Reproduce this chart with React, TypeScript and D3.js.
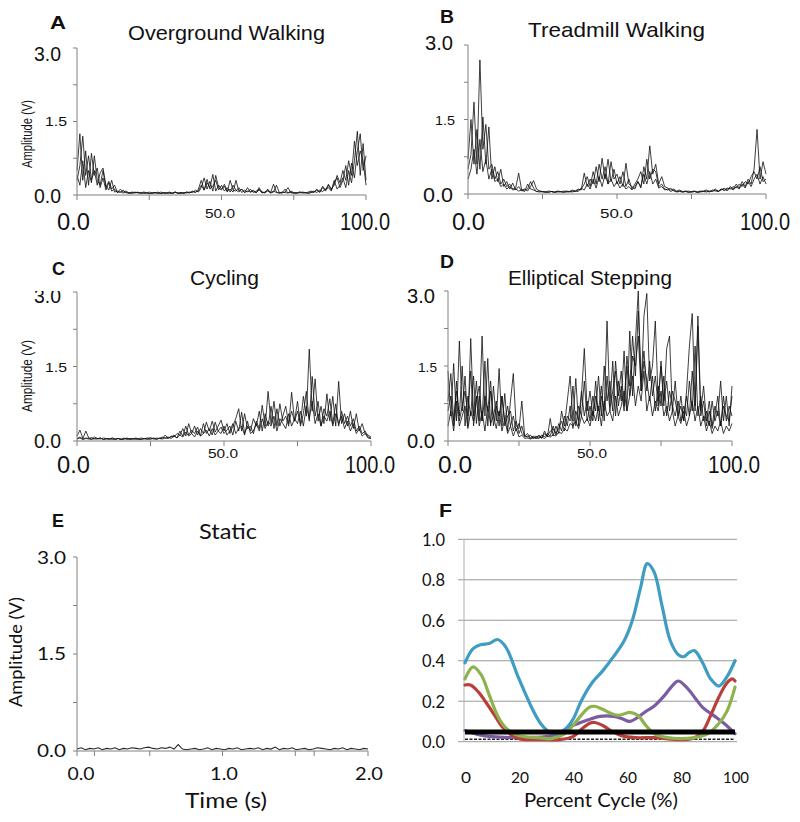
import React from "react";
import * as d3 from "d3";

// ---------------- DATA ----------------
const emgXTicks = [0, 25, 50, 75, 100];
const emgYTicks = [0, 0.75, 1.5, 2.25, 3];
const staticXTicks = [0, 0.12, 0.5, 1, 1.5, 1.63, 2];
const staticYTicks = [0, 0.75, 1.5, 2.25, 3];
const cycleXTicks = [0, 20, 40, 60, 80, 100];
const cycleYTicks = [0, 0.2, 0.4, 0.6, 0.8, 1.0];

// A: Overground Walking (V), samples across 0-100 % cycle
const overground1 = [
  0.5, 1.25, 0.3, 0.9, 0.2, 0.85, 0.4, 0.55, 0.15, 0.35, 0.1,
  0.25, 0.08, 0.12, 0.05, 0.07, 0.04, 0.06, 0.03, 0.05, 0.04,
  0.06, 0.03, 0.05, 0.04, 0.03, 0.05, 0.04, 0.06, 0.03, 0.04,
  0.05, 0.03, 0.04, 0.06, 0.04, 0.05, 0.03, 0.06, 0.04, 0.08,
  0.05, 0.12, 0.3, 0.1, 0.25, 0.15, 0.42, 0.08, 0.2, 0.12,
  0.18, 0.06, 0.3, 0.1, 0.08, 0.15, 0.05, 0.1, 0.06, 0.12,
  0.05, 0.08, 0.12, 0.04, 0.06, 0.1, 0.05, 0.22, 0.06, 0.04,
  0.05, 0.12, 0.04, 0.06, 0.03, 0.05, 0.04, 0.06, 0.05, 0.04,
  0.06, 0.08, 0.05, 0.1, 0.07, 0.12, 0.15, 0.08, 0.3, 0.12,
  0.2, 0.35, 0.15, 0.5, 0.25, 0.7, 1.3, 0.4, 1.05, 0.3,
];
const overground2 = [
  0.3, 0.6, 1.2, 0.4, 0.8, 0.3, 0.5, 0.2, 0.45, 0.55, 0.2,
  0.1, 0.3, 0.06, 0.08, 0.05, 0.1, 0.04, 0.05, 0.03, 0.06,
  0.04, 0.05, 0.03, 0.04, 0.06, 0.03, 0.05, 0.04, 0.03, 0.05,
  0.04, 0.06, 0.03, 0.05, 0.04, 0.03, 0.05, 0.04, 0.06, 0.05,
  0.1, 0.06, 0.15, 0.35, 0.12, 0.28, 0.08, 0.4, 0.15, 0.1,
  0.22, 0.08, 0.12, 0.06, 0.3, 0.08, 0.12, 0.05, 0.08, 0.06,
  0.1, 0.04, 0.15, 0.06, 0.05, 0.08, 0.04, 0.06, 0.2, 0.05,
  0.04, 0.06, 0.15, 0.04, 0.05, 0.03, 0.06, 0.04, 0.05, 0.03,
  0.05, 0.06, 0.1, 0.05, 0.15, 0.08, 0.2, 0.1, 0.25, 0.35,
  0.15, 0.3, 0.6, 0.2, 0.65, 0.35, 0.9, 1.25, 0.5, 0.8,
];
const overground3 = [
  0.4, 0.2, 0.7, 0.15, 0.5, 0.25, 0.8, 0.3, 0.2, 0.5, 0.15,
  0.28, 0.12, 0.2, 0.05, 0.12, 0.06, 0.08, 0.04, 0.06, 0.05,
  0.05, 0.04, 0.06, 0.05, 0.03, 0.04, 0.05, 0.03, 0.06, 0.04,
  0.03, 0.05, 0.04, 0.06, 0.03, 0.05, 0.04, 0.06, 0.05, 0.07,
  0.06, 0.08, 0.2, 0.1, 0.32, 0.12, 0.18, 0.3, 0.1, 0.2,
  0.08, 0.15, 0.06, 0.2, 0.1, 0.06, 0.12, 0.05, 0.15, 0.06,
  0.08, 0.05, 0.1, 0.06, 0.04, 0.12, 0.05, 0.08, 0.05, 0.04,
  0.06, 0.05, 0.04, 0.08, 0.05, 0.04, 0.06, 0.05, 0.04, 0.06,
  0.08, 0.05, 0.12, 0.06, 0.18, 0.1, 0.22, 0.12, 0.2, 0.4,
  0.25, 0.5, 0.3, 0.7, 0.4, 1.1, 0.6, 0.9, 0.7, 0.2,
];

// B: Treadmill Walking
const treadmill1 = [
  0.5, 0.8, 1.85, 0.6, 2.7, 0.9, 1.4, 0.5, 0.6, 0.3, 0.45,
  0.2, 0.3, 0.15, 0.2, 0.1, 0.12, 0.42, 0.08, 0.1, 0.06,
  0.15, 0.27, 0.1, 0.06, 0.05, 0.04, 0.06, 0.05, 0.04, 0.06,
  0.05, 0.04, 0.06, 0.05, 0.08, 0.06, 0.1, 0.08, 0.42, 0.15,
  0.3, 0.2, 0.55, 0.25, 0.72, 0.3, 0.7, 0.25, 0.5, 0.2,
  0.35, 0.15, 0.62, 0.2, 0.15, 0.1, 0.25, 0.12, 0.55, 0.3,
  0.97, 0.4, 0.6, 0.2, 0.35, 0.15, 0.12, 0.08, 0.1, 0.06,
  0.08, 0.05, 0.06, 0.04, 0.05, 0.06, 0.04, 0.05, 0.06, 0.08,
  0.05, 0.06, 0.1, 0.05, 0.08, 0.12, 0.06, 0.15, 0.1, 0.2,
  0.12, 0.25, 0.15, 0.3, 0.2, 0.5, 1.3, 0.3, 0.65, 0.4,
];
const treadmill2 = [
  0.7, 1.5, 0.6, 1.3, 0.5, 1.55, 0.6, 1.35, 0.3, 0.55, 0.25,
  0.5, 0.15, 0.25, 0.1, 0.22, 0.08, 0.15, 0.06, 0.08, 0.1,
  0.25, 0.12, 0.05, 0.06, 0.04, 0.05, 0.03, 0.05, 0.04, 0.05,
  0.04, 0.06, 0.05, 0.04, 0.06, 0.05, 0.08, 0.1, 0.2, 0.35,
  0.15, 0.45, 0.2, 0.6, 0.3, 0.55, 0.2, 0.65, 0.3, 0.4,
  0.2, 0.45, 0.15, 0.3, 0.1, 0.2, 0.3, 0.45, 0.2, 0.7,
  0.3, 0.5, 0.45, 0.15, 0.2, 0.1, 0.08, 0.12, 0.06, 0.05,
  0.06, 0.04, 0.05, 0.06, 0.04, 0.05, 0.04, 0.06, 0.05, 0.06,
  0.04, 0.08, 0.06, 0.05, 0.1, 0.08, 0.12, 0.1, 0.15, 0.12,
  0.2, 0.15, 0.25, 0.2, 0.35, 0.45, 0.3, 0.55, 0.25, 0.3,
];
const treadmill3 = [
  0.3, 0.5, 0.9, 0.4, 1.1, 0.45, 0.7, 0.3, 0.5, 0.25, 0.3,
  0.15, 0.2, 0.1, 0.15, 0.08, 0.1, 0.06, 0.08, 0.05, 0.2,
  0.1, 0.08, 0.05, 0.04, 0.05, 0.03, 0.04, 0.05, 0.03, 0.04,
  0.05, 0.03, 0.04, 0.05, 0.04, 0.06, 0.05, 0.12, 0.08, 0.2,
  0.1, 0.3, 0.12, 0.35, 0.15, 0.4, 0.2, 0.3, 0.15, 0.25,
  0.12, 0.2, 0.1, 0.15, 0.08, 0.15, 0.25, 0.15, 0.4, 0.2,
  0.45, 0.2, 0.3, 0.12, 0.15, 0.08, 0.1, 0.05, 0.08, 0.04,
  0.05, 0.04, 0.05, 0.03, 0.04, 0.05, 0.03, 0.04, 0.05, 0.04,
  0.06, 0.05, 0.08, 0.06, 0.1, 0.07, 0.1, 0.12, 0.08, 0.15,
  0.1, 0.2, 0.12, 0.25, 0.15, 0.3, 0.4, 0.2, 0.35, 0.2,
];

// C: Cycling
const cycling1 = [
  0.1, 0.22, 0.05, 0.2, 0.06, 0.04, 0.08, 0.05, 0.04, 0.06, 0.05,
  0.03, 0.06, 0.04, 0.05, 0.03, 0.04, 0.06, 0.04, 0.05, 0.03,
  0.05, 0.06, 0.04, 0.05, 0.07, 0.04, 0.06, 0.05, 0.08, 0.06,
  0.05, 0.1, 0.08, 0.15, 0.12, 0.25, 0.1, 0.35, 0.15, 0.3,
  0.12, 0.25, 0.15, 0.38, 0.2, 0.4, 0.18, 0.3, 0.42, 0.2,
  0.35, 0.15, 0.3, 0.45, 0.65, 0.2, 0.55, 0.25, 0.3, 0.15,
  0.4, 0.25, 0.72, 0.3, 1.0, 0.35, 0.8, 0.3, 0.75, 0.4,
  0.5, 0.3, 0.98, 0.4, 0.6, 0.35, 0.9, 0.5, 1.85, 0.6,
  1.25, 0.4, 0.7, 0.35, 0.95, 0.4, 0.9, 0.3, 1.2, 0.35,
  0.55, 0.3, 0.6, 0.25, 0.55, 0.2, 0.35, 0.15, 0.12, 0.08,
];
const cycling2 = [
  0.05, 0.08, 0.04, 0.06, 0.05, 0.07, 0.04, 0.05, 0.06, 0.03, 0.05,
  0.04, 0.06, 0.03, 0.05, 0.04, 0.06, 0.03, 0.05, 0.04, 0.06,
  0.04, 0.03, 0.05, 0.06, 0.04, 0.05, 0.03, 0.06, 0.05, 0.12,
  0.06, 0.08, 0.12, 0.06, 0.2, 0.1, 0.3, 0.12, 0.22, 0.15,
  0.28, 0.1, 0.35, 0.15, 0.25, 0.12, 0.38, 0.2, 0.28, 0.15,
  0.22, 0.3, 0.12, 0.4, 0.2, 0.58, 0.15, 0.3, 0.2, 0.45,
  0.3, 0.6, 0.2, 0.55, 0.3, 0.7, 0.25, 0.65, 0.3, 0.5,
  0.7, 0.35, 0.6, 0.4, 0.8, 0.3, 0.55, 1.0, 0.4, 1.3,
  0.5, 0.8, 0.3, 0.65, 0.5, 0.85, 0.35, 0.75, 0.3, 0.6,
  0.35, 0.5, 0.3, 0.45, 0.2, 0.3, 0.15, 0.2, 0.08, 0.06,
];
const cycling3 = [
  0.04, 0.06, 0.03, 0.05, 0.04, 0.03, 0.05, 0.04, 0.06, 0.03, 0.04,
  0.05, 0.03, 0.04, 0.05, 0.03, 0.04, 0.05, 0.03, 0.04, 0.05,
  0.03, 0.04, 0.05, 0.03, 0.04, 0.06, 0.04, 0.05, 0.04, 0.06,
  0.08, 0.05, 0.1, 0.06, 0.12, 0.08, 0.18, 0.1, 0.15, 0.08,
  0.2, 0.1, 0.15, 0.22, 0.1, 0.25, 0.12, 0.2, 0.15, 0.3,
  0.12, 0.2, 0.35, 0.15, 0.25, 0.3, 0.12, 0.4, 0.15, 0.2,
  0.35, 0.2, 0.45, 0.25, 0.4, 0.3, 0.5, 0.2, 0.45, 0.35,
  0.25, 0.55, 0.3, 0.45, 0.35, 0.6, 0.3, 0.7, 0.45, 0.8,
  0.35, 0.55, 0.3, 0.5, 0.4, 0.6, 0.3, 0.55, 0.35, 0.5,
  0.25, 0.4, 0.2, 0.35, 0.15, 0.25, 0.1, 0.15, 0.06, 0.05,
];

// D: Elliptical Stepping
const elliptical1 = [
  1.4, 0.5, 1.55, 0.4, 2.0, 0.6, 1.3, 0.3, 2.05, 0.5, 1.2,
  0.4, 2.1, 0.5, 1.65, 0.3, 1.1, 0.4, 1.45, 0.3, 0.95,
  0.2, 0.8, 1.35, 0.3, 0.25, 0.8, 0.1, 0.15, 0.06, 0.1,
  0.05, 0.12, 0.06, 0.2, 0.08, 0.45, 0.1, 0.3, 0.15, 0.6,
  0.3, 0.8, 1.3, 0.4, 1.25, 0.3, 0.9, 1.85, 0.6, 1.0,
  0.5, 1.2, 0.4, 0.9, 0.6, 2.4, 0.7, 1.6, 0.5, 1.2,
  0.8, 1.8, 0.6, 2.2, 0.9, 2.0, 3.0, 1.0, 2.5, 2.95,
  1.2, 1.5, 2.4, 0.8, 1.5, 0.7, 1.85, 2.1, 0.6, 1.2,
  0.5, 0.9, 0.4, 1.0, 1.9, 2.55, 0.7, 2.5, 0.6, 1.1,
  0.4, 0.8, 0.3, 0.7, 0.5, 1.2, 0.4, 0.9, 0.3, 1.1,
];
const elliptical2 = [
  0.8, 1.35, 0.4, 1.0, 0.5, 1.5, 0.3, 0.9, 0.5, 1.3, 0.35,
  0.9, 0.4, 1.6, 0.3, 1.0, 0.5, 0.8, 0.3, 0.9, 0.4,
  0.7, 0.3, 0.5, 0.2, 0.35, 0.15, 0.1, 0.08, 0.12, 0.05,
  0.08, 0.1, 0.05, 0.15, 0.1, 0.2, 0.25, 0.12, 0.35, 0.2,
  0.5, 0.3, 0.7, 0.25, 0.6, 0.4, 1.0, 0.5, 0.8, 0.4,
  0.9, 0.6, 1.3, 0.5, 1.5, 0.8, 1.2, 0.6, 1.6, 0.9,
  1.4, 0.7, 1.7, 1.1, 2.1, 1.3, 2.6, 1.2, 1.8, 1.0,
  1.6, 0.9, 1.3, 0.7, 1.6, 0.8, 1.2, 0.6, 1.0, 0.8,
  0.5, 0.7, 0.4, 0.9, 0.5, 1.4, 0.6, 2.3, 0.5, 0.8,
  0.3, 0.6, 0.25, 0.5, 0.9, 0.3, 0.7, 0.5, 0.4, 0.9,
];
const elliptical3 = [
  0.3, 0.6, 0.2, 0.8, 0.3, 0.5, 0.7, 0.25, 0.6, 0.4, 0.9,
  0.3, 0.6, 0.2, 0.7, 0.35, 0.5, 0.25, 0.6, 0.2, 0.45,
  0.15, 0.3, 0.1, 0.25, 0.08, 0.12, 0.05, 0.06, 0.04, 0.08,
  0.05, 0.06, 0.08, 0.05, 0.1, 0.08, 0.12, 0.1, 0.18, 0.15,
  0.25, 0.2, 0.35, 0.3, 0.4, 0.25, 0.5, 0.35, 0.45, 0.3,
  0.6, 0.4, 0.7, 0.3, 0.8, 0.5, 0.6, 0.4, 0.9, 0.5,
  0.7, 1.0, 0.6, 0.9, 1.3, 0.7, 1.1, 0.8, 1.4, 0.6,
  0.9, 0.5, 0.8, 0.6, 1.0, 0.5, 0.7, 0.4, 0.6, 0.3,
  0.5, 0.35, 0.6, 0.3, 0.5, 0.8, 0.4, 0.7, 0.3, 0.5,
  0.2, 0.4, 0.15, 0.3, 0.2, 0.4, 0.15, 0.3, 0.2, 0.35,
];
const elliptical4 = [
  0.6, 0.9, 0.3, 1.2, 0.4, 0.7, 1.0, 0.5, 1.4, 0.3, 0.8,
  1.1, 0.4, 0.9, 0.6, 1.2, 0.3, 0.7, 0.5, 0.9, 0.3,
  0.5, 0.6, 0.2, 0.4, 0.15, 0.3, 0.08, 0.1, 0.05, 0.06,
  0.1, 0.05, 0.12, 0.08, 0.15, 0.1, 0.3, 0.15, 0.25, 0.4,
  0.2, 0.5, 0.4, 1.1, 0.3, 0.7, 0.5, 1.2, 0.4, 0.7,
  0.4, 0.9, 0.6, 1.1, 0.4, 1.3, 0.6, 1.0, 1.4, 0.7,
  1.1, 0.6, 1.5, 0.9, 1.7, 1.5, 2.1, 1.0, 1.6, 1.2,
  0.8, 1.3, 0.6, 1.1, 0.7, 1.3, 0.5, 1.0, 0.7, 0.5,
  0.8, 0.4, 0.7, 0.5, 1.2, 0.6, 1.9, 0.5, 0.9, 0.4,
  0.6, 0.3, 0.8, 0.4, 0.6, 0.3, 0.9, 0.4, 0.7, 0.5,
];

// E: Static (0-2 s)
const staticTrace = [
  0.03, 0.05, 0.02, 0.04, 0.03, 0.05, 0.02, 0.04, 0.03, 0.05,
  0.02, 0.04, 0.03, 0.05, 0.04, 0.03, 0.05, 0.06, 0.04, 0.03,
  0.05, 0.04, 0.06, 0.03, 0.1, 0.03, 0.02, 0.03, 0.04, 0.02,
  0.03, 0.05, 0.02, 0.04, 0.03, 0.02, 0.04, 0.03, 0.05, 0.02,
  0.03, 0.04, 0.03, 0.05, 0.02, 0.04, 0.03, 0.06, 0.02, 0.04,
  0.03, 0.05, 0.02, 0.03, 0.04, 0.02, 0.03, 0.05, 0.04, 0.03,
  0.02, 0.04, 0.03, 0.05, 0.02, 0.04, 0.03, 0.02, 0.04, 0.03,
];

// F: mean linear envelopes across percent cycle
const blueX = [0, 3, 6, 9, 12, 15, 20, 25, 28, 31, 34, 37, 40, 43, 47, 51, 55, 59, 62, 65, 67.5, 70, 73, 76, 79, 81, 83, 85, 88, 91, 94, 97, 100];
const blueY = [0.39, 0.46, 0.48, 0.485, 0.505, 0.47, 0.31, 0.16, 0.09, 0.05, 0.04, 0.06, 0.11, 0.2, 0.29, 0.35, 0.42, 0.5, 0.6, 0.76, 0.88, 0.84, 0.67, 0.5, 0.43, 0.42, 0.44, 0.45, 0.39, 0.31, 0.275, 0.32, 0.4];
const greenX = [0, 3, 6, 9, 12, 15, 18, 22, 27, 32, 37, 40, 43, 46, 48, 51, 54, 57, 61, 64, 67, 70, 75, 80, 85, 90, 94, 97, 100];
const greenY = [0.31, 0.37, 0.33, 0.23, 0.13, 0.07, 0.04, 0.025, 0.02, 0.015, 0.04, 0.08, 0.13, 0.17, 0.175, 0.16, 0.14, 0.13, 0.145, 0.13, 0.08, 0.04, 0.02, 0.015, 0.02, 0.04, 0.09, 0.15, 0.27];
const redX = [0, 2, 5, 8, 11, 14, 17, 20, 25, 30, 35, 40, 43, 46, 48, 51, 54, 58, 63, 70, 80, 85, 88, 91, 94, 97, 99, 100];
const redY = [0.28, 0.28, 0.245, 0.19, 0.13, 0.07, 0.035, 0.015, 0.01, 0.01, 0.01, 0.025, 0.06, 0.09, 0.095, 0.08, 0.055, 0.03, 0.02, 0.02, 0.01, 0.02, 0.05, 0.13, 0.22, 0.29, 0.31, 0.3];
const purpleX = [0, 5, 10, 20, 30, 35, 38, 42, 46, 50, 55, 58, 61, 64, 67, 70, 74, 77, 79, 82, 85, 88, 92, 96, 100];
const purpleY = [0.055, 0.035, 0.025, 0.02, 0.025, 0.04, 0.07, 0.09, 0.11, 0.125, 0.125, 0.115, 0.1, 0.12, 0.15, 0.175, 0.23, 0.28, 0.3, 0.27, 0.22, 0.17, 0.13, 0.09, 0.04];
const thresholdX = [0, 100];
const thresholdY = [0.048, 0.048];
const baselineY = [0.012, 0.012];

// ---------------- LAYOUT ----------------
const AX = "#808080";
const TRACE = "#111";
const ARIAL = "'Liberation Sans', Arial, sans-serif";
const CAL = "Lato, 'Liberation Sans', sans-serif";

type Lbl = { t: string; x: number; y: number; size: number; w?: number; anchor?: string; bold?: boolean; rot?: boolean; family?: string; clipTop?: number };

function Txt({ t, x, y, size, w, anchor = "middle", bold, rot, family = ARIAL }: Lbl) {
  const common: any = {
    fontSize: size,
    fontFamily: family,
    fontWeight: bold ? "bold" : "normal",
    textAnchor: anchor,
    fill: "#111",
  };
  if (w) {
    common.textLength = w;
    common.lengthAdjust = "spacingAndGlyphs";
  }
  if (rot) {
    return (
      <text transform={`translate(${x},${y}) rotate(-90)`} {...common}>
        {t}
      </text>
    );
  }
  return (
    <text x={x} y={y} {...common}>
      {t}
    </text>
  );
}

type EmgPanelProps = {
  x0: number; x1: number; yTop: number; yBot: number;
  traces: number[][];
  xDomain: [number, number];
  xTicks: number[];
  yTicks: number[];
  labels: Lbl[];
  strokeW?: number;
};

function EmgPanel({ x0, x1, yTop, yBot, traces, xDomain, xTicks, yTicks, labels, strokeW = 0.9 }: EmgPanelProps) {
  const x = d3.scaleLinear().domain(xDomain).range([x0, x1]);
  const y = d3.scaleLinear().domain([0, 3]).range([yBot, yTop]);
  return (
    <g>
      {traces.map((tr, k) => {
        const n = tr.length;
        const line = d3
          .line<number>()
          .x((_, i) => x(xDomain[0] + (i / (n - 1)) * (xDomain[1] - xDomain[0])))
          .y((d) => y(d));
        return <path key={k} d={line(tr) || ""} fill="none" stroke={TRACE} strokeWidth={strokeW} strokeOpacity={0.9} strokeLinejoin="miter" />;
      })}
      <line x1={x0} x2={x0} y1={y(3)} y2={y(0)} stroke={AX} strokeWidth={1} />
      <line x1={x0} x2={x1} y1={y(0)} y2={y(0)} stroke={AX} strokeWidth={1} />
      {yTicks.map((t) => (
        <line key={"y" + t} x1={x0 - 4} x2={x0} y1={y(t)} y2={y(t)} stroke={AX} strokeWidth={1} />
      ))}
      {xTicks.map((t) => (
        <line key={"x" + t} x1={x(t)} x2={x(t)} y1={y(0)} y2={y(0) + 5} stroke={AX} strokeWidth={1} />
      ))}
      {labels.map((l, i) => {
        if (l.clipTop !== undefined) {
          const id = "clip" + Math.round(l.x) + "_" + Math.round(l.y);
          return (
            <g key={i}>
              <clipPath id={id}>
                <rect x={0} y={l.clipTop} width={800} height={60} />
              </clipPath>
              <g clipPath={`url(#${id})`}>
                <Txt {...l} />
              </g>
            </g>
          );
        }
        return <Txt key={i} {...l} />;
      })}
    </g>
  );
}

function CyclePanel() {
  const x0 = 465, x1 = 735, yBot = 741.7, yTop = 539.3;
  const x = d3.scaleLinear().domain([0, 100]).range([x0, x1]);
  const y = d3.scaleLinear().domain([0, 1]).range([yBot, yTop]);
  const mk = (xs: number[], ys: number[]) =>
    d3
      .line<number>()
      .x((_, i) => x(xs[i]))
      .y((d) => y(d))
      .curve(d3.curveCatmullRom.alpha(0.5))(ys) || "";
  const flat = (ys: number[]) =>
    d3.line<number>().x((_, i) => x(thresholdX[i])).y((d) => y(d))(ys) || "";
  const series = [
    { xs: purpleX, ys: purpleY, c: "#7B5CA3" },
    { xs: redX, ys: redY, c: "#B9403A" },
    { xs: greenX, ys: greenY, c: "#8DB24E" },
    { xs: blueX, ys: blueY, c: "#3F9DC1" },
  ];
  return (
    <g>
      {cycleYTicks.map((t) => (
        <line key={t} x1={458} x2={737} y1={y(t)} y2={y(t)} stroke="#9a9a9a" strokeWidth={1} />
      ))}
      <line x1={464} x2={464} y1={y(1)} y2={y(0)} stroke="#b0b0b0" strokeWidth={1} />
      <path d={flat(baselineY)} stroke="#222" strokeWidth={1.4} strokeDasharray="3,1.5" fill="none" />
      {series.map((s, i) => (
        <path key={i} d={mk(s.xs, s.ys)} fill="none" stroke={s.c} strokeWidth={3.2} strokeLinecap="round" strokeLinejoin="round" />
      ))}
      <path d={flat(thresholdY)} stroke="#000" strokeWidth={4.8} fill="none" />
      {cycleYTicks.map((t) => (
        <Txt key={"yl" + t} t={t.toFixed(1)} x={445} y={y(t) + 6.5} size={17} w={23} anchor="end" family={CAL} />
      ))}
      {cycleXTicks.map((t) => (
        <Txt key={"xl" + t} t={String(t)} x={x(t) + 1} y={783} size={16} w={t === 0 ? 10 : t === 100 ? 26 : 18} family={CAL} />
      ))}
      <Txt t="Percent Cycle (%)" x={601} y={807} size={19} w={154} family={CAL} />
      <Txt t="F" x={439} y={517} size={19} w={13} anchor="start" bold />
    </g>
  );
}

export default function App() {
  return (
    <svg width={800} height={822} viewBox="0 0 800 822" style={{ display: "block", position: "absolute", left: 0, top: 0, background: "#fff" }}>
      <rect width={800} height={822} fill="#fff" />
      {/* A */}
      <EmgPanel
        x0={77} x1={366} yTop={48} yBot={195}
        traces={[overground3, overground2, overground1]}
        xDomain={[0, 100]} xTicks={emgXTicks} yTicks={emgYTicks}
        labels={[
          { t: "A", x: 50, y: 29, size: 19, w: 16, anchor: "start", bold: true },
          { t: "Overground Walking", x: 226.5, y: 40, size: 21, w: 197 },
          { t: "3.0", x: 61, y: 61, size: 20, w: 27, anchor: "end" },
          { t: "1.5", x: 67, y: 126, size: 13, w: 22, anchor: "end" },
          { t: "0.0", x: 61, y: 203, size: 20, w: 27, anchor: "end" },
          { t: "Amplitude (V)", x: 32, y: 134, size: 14, w: 68, rot: true },
          { t: "0.0", x: 73.5, y: 230, size: 23, w: 33 },
          { t: "50.0", x: 220, y: 218, size: 12, w: 30 },
          { t: "100.0", x: 365, y: 230, size: 23, w: 50 },
        ]}
      />
      {/* B */}
      <EmgPanel
        x0={468} x1={766} yTop={45} yBot={194}
        traces={[treadmill3, treadmill2, treadmill1]}
        xDomain={[0, 100]} xTicks={emgXTicks} yTicks={emgYTicks}
        labels={[
          { t: "B", x: 440, y: 23, size: 19, w: 14, anchor: "start", bold: true },
          { t: "Treadmill Walking", x: 616.5, y: 37, size: 21, w: 177 },
          { t: "3.0", x: 453, y: 50, size: 20, w: 28, anchor: "end" },
          { t: "1.5", x: 455, y: 125, size: 13, w: 20, anchor: "end" },
          { t: "0.0", x: 453, y: 202, size: 20, w: 30, anchor: "end" },
          { t: "0.0", x: 468.5, y: 230, size: 23, w: 33 },
          { t: "50.0", x: 616.5, y: 218, size: 12, w: 33 },
          { t: "100.0", x: 765, y: 230, size: 23, w: 50 },
        ]}
      />
      {/* C */}
      <EmgPanel
        x0={77} x1={371} yTop={292} yBot={441}
        traces={[cycling3, cycling2, cycling1]}
        xDomain={[0, 100]} xTicks={emgXTicks} yTicks={emgYTicks}
        labels={[
          { t: "C", x: 52, y: 275, size: 18, w: 13, anchor: "start", bold: true },
          { t: "Cycling", x: 224.5, y: 285, size: 21, w: 69 },
          { t: "3.0", x: 61, y: 303, size: 20, w: 27, anchor: "end", clipTop: 291 },
          { t: "1.5", x: 67, y: 372, size: 13, w: 22, anchor: "end" },
          { t: "0.0", x: 61, y: 448, size: 20, w: 27, anchor: "end" },
          { t: "Amplitude (V)", x: 32, y: 376, size: 14, w: 72, rot: true },
          { t: "0.0", x: 73.5, y: 473, size: 23, w: 33 },
          { t: "50.0", x: 223, y: 458, size: 12, w: 30 },
          { t: "100.0", x: 370, y: 473, size: 23, w: 50 },
        ]}
      />
      {/* D */}
      <EmgPanel
        x0={448} x1={732} yTop={291} yBot={441}
        traces={[elliptical4, elliptical3, elliptical2, elliptical1]}
        xDomain={[0, 100]} xTicks={emgXTicks} yTicks={emgYTicks}
        labels={[
          { t: "D", x: 440, y: 268, size: 18, w: 14, anchor: "start", bold: true },
          { t: "Elliptical Stepping", x: 590, y: 285, size: 21, w: 164 },
          { t: "3.0", x: 435, y: 303, size: 20, w: 28, anchor: "end" },
          { t: "1.5", x: 437, y: 372, size: 13, w: 19, anchor: "end" },
          { t: "0.0", x: 435, y: 448, size: 20, w: 28, anchor: "end" },
          { t: "0.0", x: 455, y: 473, size: 23, w: 34 },
          { t: "50.0", x: 592, y: 458, size: 12, w: 30 },
          { t: "100.0", x: 734, y: 473, size: 23, w: 52 },
        ]}
      />
      {/* E */}
      <EmgPanel
        x0={77} x1={368} yTop={557} yBot={751}
        traces={[staticTrace]}
        xDomain={[0, 2]} xTicks={staticXTicks} yTicks={staticYTicks}
        strokeW={1.1}
        labels={[
          { t: "E", x: 52, y: 527, size: 18, w: 12, anchor: "start", bold: true },
          { t: "Static", x: 228, y: 539, size: 22, w: 58, family: CAL },
          { t: "3.0", x: 66, y: 564, size: 17, w: 29, anchor: "end", family: CAL },
          { t: "1.5", x: 66, y: 660, size: 17, w: 29, anchor: "end", family: CAL },
          { t: "0.0", x: 66, y: 757, size: 17, w: 29, anchor: "end", family: CAL },
          { t: "Amplitude (V)", x: 22, y: 652, size: 17, w: 110, rot: true, family: CAL },
          { t: "0.0", x: 81, y: 780, size: 17, w: 27, family: CAL },
          { t: "1.0", x: 224, y: 780, size: 17, w: 28, family: CAL },
          { t: "2.0", x: 369, y: 780, size: 17, w: 28, family: CAL },
          { t: "Time (s)", x: 226, y: 808, size: 21, w: 82, family: CAL },
        ]}
      />
      {/* F */}
      <CyclePanel />
    </svg>
  );
}
